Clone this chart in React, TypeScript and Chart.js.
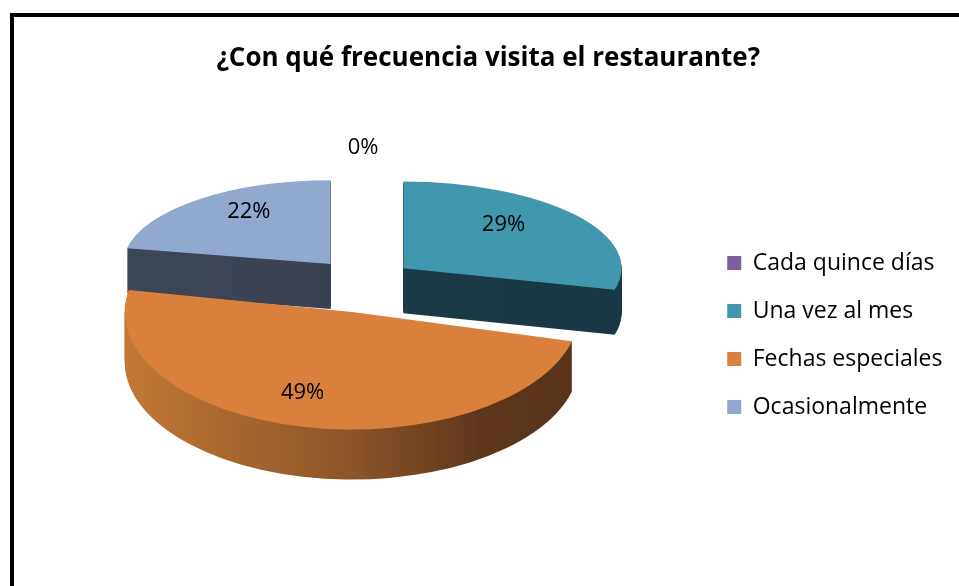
import React, { useEffect, useRef } from 'react';
import { Chart, registerables } from 'chart.js';

Chart.register(...registerables);

// ---- data ----
const TITLE = '¿Con qué frecuencia visita el restaurante?';
const categories = ['Cada quince días', 'Una vez al mes', 'Fechas especiales', 'Ocasionalmente'];
const percentages = [0, 29, 49, 22];

// ---- styles ----
const topColors = ['#7D5F9F', '#4197AD', '#D9813C', '#91A8CF'];
const sideStops: string[][] = [
  ['#3E2F50', '#3E2F50', '#3E2F50', '#3E2F50'],
  ['#1D3D49', '#1B3A46', '#1A3843', '#1A3843'],
  ['#C27836', '#8C5428', '#5E371B', '#58331A'],
  ['#3D4657', '#3A4252', '#384050', '#384050'],
];
const FONT = '"Open Sans"';

// pseudo-3D projection parameters
const TILT = 0.45;
const TILT_FRONT = 0.197;
const SCALE_FRONT = 0.045;
const SCALE_SIDE = 0.03;
const EXPLODE = 51;
const EXPLODE_TILT = 0.54;
const LIFT = 50;
const DEPTH = 47;
const DEPTH_FRONT = 0.064;

function sliceGeometry(a: any) {
  const mid = (a.startAngle + a.endAngle) / 2;
  const f = Math.sin(mid);
  const c = Math.cos(mid);
  const sx = 1 + SCALE_FRONT * f + SCALE_SIDE * c;
  const sy = TILT * (1 + TILT_FRONT * f);
  return {
    mid, f, c, sx, sy,
    ax: a.x + EXPLODE * c,
    ay: a.y - LIFT + EXPLODE * EXPLODE_TILT * f,
    depth: Math.round(DEPTH * (1 + DEPTH_FRONT * f)),
    r: a.outerRadius,
  };
}

function drawAt(ctx: CanvasRenderingContext2D, el: any, g: any, dy: number) {
  ctx.save();
  ctx.translate(g.ax, g.ay + dy);
  ctx.scale(g.sx, g.sy);
  ctx.translate(-el.x, -el.y);
  el.draw(ctx);
  ctx.restore();
}

const pie3d = {
  id: 'pie3d',
  beforeDatasetsDraw(chart: any) {
    const ctx: CanvasRenderingContext2D = chart.ctx;
    const meta = chart.getDatasetMeta(0);
    const items = meta.data.map((el: any, i: number) => ({ el, i, g: sliceGeometry(el) }));
    const order = items.slice().sort((p: any, q: any) => p.g.f - q.g.f);
    for (const { el, i, g } of order) {
      if (!el.circumference) continue;
      const grad = ctx.createLinearGradient(el.x - g.r, 0, el.x + g.r, 0);
      const stops = sideStops[i];
      grad.addColorStop(0, stops[0]);
      grad.addColorStop(0.5, stops[1]);
      grad.addColorStop(0.78, stops[2]);
      grad.addColorStop(1, stops[3]);
      const side = Object.create(el);
      side.options = { ...el.options, backgroundColor: grad };
      for (let d = g.depth; d >= 1; d--) drawAt(ctx, side, g, d);
      drawAt(ctx, el, g, 0);
    }
    // percentage labels
    ctx.save();
    ctx.font = `22px ${FONT}`;
    ctx.fillStyle = '#000';
    ctx.textAlign = 'center';
    ctx.textBaseline = 'middle';
    for (const { i, g } of items) {
      const v = percentages[i];
      const rx = 0.72;
      const ry = v > 0 ? 0.74 : 1.34;
      const px = g.ax + g.r * g.sx * rx * g.c * (1 + 0.25 * g.f) - (v > 0 ? 5 : 0);
      const py = g.ay + g.r * g.sy * ry * g.f - 4;
      ctx.fillText(`${v}%`, px, py);
    }
    ctx.restore();
    return false;
  },
};

export default function App() {
  const ref = useRef<HTMLCanvasElement>(null);
  useEffect(() => {
    const chart = new Chart(ref.current as HTMLCanvasElement, {
      type: 'pie',
      data: {
        labels: categories,
        datasets: [
          {
            data: percentages,
            backgroundColor: topColors,
            borderWidth: 0,
            radius: 219,
          } as any,
        ],
      },
      options: {
        responsive: false,
        animation: false,
        devicePixelRatio: 1,
        layout: { padding: { left: 24, right: 6.5, top: 0, bottom: 0 } },
        plugins: {
          title: {
            display: true,
            text: TITLE,
            color: '#000',
            font: { family: FONT, size: 26, weight: 'bold' },
            padding: { top: 43, bottom: 10 },
          },
          legend: {
            position: 'right',
            align: 'center',
            fullSize: false,
            labels: {
              boxWidth: 14,
              boxHeight: 14,
              padding: 25,
              color: '#000',
              font: { family: FONT, size: 23 },
            },
          },
          tooltip: { enabled: false },
        },
      } as any,
      plugins: [pie3d as any],
    });
    return () => chart.destroy();
  }, []);
  return (
    <div
      style={{
        position: 'fixed',
        left: 0,
        top: 0,
        width: 959,
        height: 586,
        overflow: 'hidden',
        background: '#fff',
      }}
    >
      <div
        style={{
          position: 'absolute',
          left: 10,
          top: 13,
          width: 1200,
          height: 900,
          border: '4px solid #000',
          boxSizing: 'border-box',
        }}
      />
      <canvas
        ref={ref}
        width={959}
        height={586}
        style={{ position: 'absolute', left: 0, top: 0, width: 959, height: 586 }}
      />
    </div>
  );
}
